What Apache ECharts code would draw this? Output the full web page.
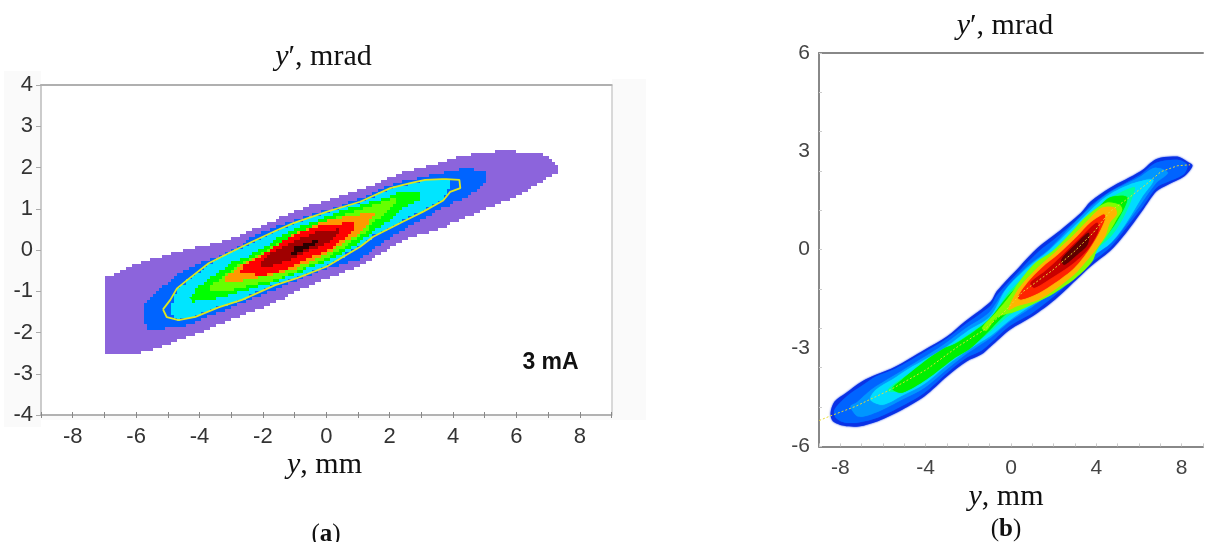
<!DOCTYPE html>
<html>
<head>
<meta charset="utf-8">
<style>html,body{margin:0;padding:0;background:#fff}#c{width:1206px;height:542px}</style>
<script src="https://cdn.jsdelivr.net/npm/echarts@6/dist/echarts.min.js"></script>
</head>
<body>
<div id="c"></div>
<script>
// ---- panel (a): y, mm vs y', mrad at 3 mA ----
const aPurple = [[-7,-2.49],[-7,-0.66],[-5.97,-0.31],[-4.76,-0.05],[-3.5,0.18],[-2.66,0.4],[-1.61,0.73],[-1.04,0.95],[0.22,1.26],[1.48,1.58],[2.33,1.87],[3.06,2.01],[4.23,2.28],[5.49,2.41],[6.66,2.36],[7.16,2.14],[7.35,1.92],[6.96,1.7],[6.02,1.26],[5.17,1.02],[4.32,0.73],[3.49,0.48],[2.65,0.29],[2.11,0.07],[1.07,-0.41],[-0.09,-0.73],[-1.61,-1.28],[-3.09,-1.74],[-3.97,-2.01],[-5.18,-2.35],[-6.03,-2.55],[-6.25,-2.49]];
const aBlue = [[-5.79,-1.7],[-5.71,-1.28],[-5.34,-0.97],[-4.76,-0.61],[-4.04,-0.32],[-3.5,-0.16],[-2.66,0.16],[-2.08,0.44],[-1.04,0.73],[0.22,1.02],[1.07,1.26],[2.11,1.62],[3.38,1.84],[4.45,1.99],[4.92,1.89],[5.08,1.75],[4.92,1.53],[4.45,1.28],[3.69,1.02],[2.97,0.68],[2.11,0.32],[1.07,-0.24],[-0.09,-0.48],[-1.61,-0.97],[-2.24,-1.16],[-3.09,-1.45],[-3.72,-1.62],[-4.45,-1.86],[-5.55,-1.94]];
const aCyan = [[-4.89,-1.55],[-4.89,-1.33],[-4.71,-0.93],[-4.39,-0.73],[-3.71,-0.32],[-3.08,-0.08],[-2.34,0.2],[-1.61,0.46],[-1.04,0.65],[0.03,0.93],[1.07,1.17],[2.02,1.5],[2.65,1.62],[3.12,1.7],[3.65,1.72],[3.9,1.66],[3.91,1.45],[3.69,1.2],[3.06,0.93],[2.43,0.69],[1.48,0.32],[1.07,0.08],[0.02,-0.4],[-0.92,-0.68],[-1.61,-0.85],[-2.66,-1.21],[-3.4,-1.39],[-4.13,-1.62],[-4.66,-1.7]];
const aGreen = [[-4.29,-1.17],[-4.13,-0.93],[-3.66,-0.65],[-3.13,-0.36],[-2.56,-0.16],[-1.82,0.16],[-1.04,0.53],[0.54,0.97],[1.8,1.26],[2.26,1.4],[2.71,1.42],[3.05,1.33],[2.9,1.17],[2.43,0.97],[1.7,0.56],[0.85,0.07],[0.03,-0.29],[-0.95,-0.58],[-1.61,-0.78],[-2.78,-1.05],[-3.61,-1.21],[-4.13,-1.25]];
const aLime = [[-3.72,-1.02],[-3.61,-0.81],[-3.25,-0.65],[-2.78,-0.36],[-1.83,0.05],[-1.04,0.39],[0.54,0.85],[1.39,1.07],[2.08,1.26],[2.24,1.26],[2.11,1.04],[1.39,0.53],[0.6,0.05],[-0.19,-0.29],[-0.95,-0.53],[-1.61,-0.73],[-2.34,-0.85],[-3.09,-1.01]];
const aOrange = [[-3.24,-0.81],[-3.19,-0.61],[-2.77,-0.4],[-2.15,-0.12],[-1.61,0.08],[-1.04,0.4],[0.03,0.73],[0.85,0.85],[1.55,0.9],[1.29,0.56],[0.85,0.29],[0.35,0.05],[-0.28,-0.22],[-1.04,-0.48],[-1.77,-0.63],[-2.24,-0.68],[-2.88,-0.81]];
const aRed = [[-2.73,-0.56],[-2.61,-0.36],[-2.14,-0.16],[-1.35,0.24],[-0.41,0.56],[0.55,0.66],[0.88,0.69],[0.85,0.44],[0.44,0.16],[-0.29,-0.12],[-1.14,-0.44],[-1.87,-0.61]];
const aDarkRed = [[-2.17,-0.4],[-1.87,-0.12],[-1.14,0.2],[-0.4,0.44],[0.39,0.51],[0.42,0.36],[0.02,0.16],[-0.61,-0.08],[-1.24,-0.28],[-1.87,-0.42]];
const aCore = [[-1.16,-0.1],[-0.98,0.08],[-0.61,0.18],[-0.14,0.28],[-0.35,0.12],[-0.73,-0.04],[-1.03,-0.15]];
const aYellowLine = [[-5.15,-1.44],[-4.92,-1.21],[-4.71,-0.93],[-4.39,-0.73],[-3.71,-0.32],[-3.08,-0.08],[-2.34,0.2],[-1.61,0.46],[-1.04,0.65],[0.03,0.93],[1.07,1.17],[2.02,1.5],[2.65,1.62],[3.12,1.7],[3.65,1.72],[3.71,1.76],[3.79,1.72],[4.2,1.7],[4.23,1.5],[3.91,1.41],[3.69,1.2],[3.06,0.93],[2.43,0.69],[1.48,0.32],[1.07,0.08],[0.02,-0.4],[-0.92,-0.68],[-1.61,-0.85],[-2.66,-1.21],[-3.4,-1.39],[-4.13,-1.62],[-4.66,-1.7],[-5.03,-1.63],[-5.15,-1.44]];

// ---- panel (b) ----
const bEdge = [[-8.46,-4.98],[-8.27,-4.63],[-7.74,-4.37],[-6.99,-4.02],[-6.31,-3.81],[-5.41,-3.56],[-4.05,-3.05],[-2.99,-2.64],[-2.16,-2.19],[-0.95,-1.58],[-0.67,-1.27],[0.41,-0.51],[1.24,0.05],[2.19,0.53],[3.27,1.12],[3.73,1.47],[4.63,1.88],[6.07,2.39],[6.82,2.77],[7.8,2.84],[8.26,2.69],[8.51,2.56],[8.11,2.23],[7.35,1.98],[6.82,1.78],[6.14,1.17],[5.39,0.51],[4.63,-0.05],[3.73,-0.51],[2.07,-1.52],[1.01,-2.03],[-0.05,-2.44],[-0.95,-2.95],[-1.4,-3.2],[-2.08,-3.41],[-2.99,-3.86],[-4.05,-4.47],[-5.1,-4.88],[-6.24,-5.23],[-7.14,-5.39],[-7.82,-5.37],[-8.35,-5.23]];
const bBlue = [[-8.27,-4.88],[-7.69,-4.47],[-6.92,-4.12],[-6.33,-3.87],[-5.42,-3.63],[-4.06,-3.13],[-2.99,-2.71],[-2.16,-2.29],[-0.95,-1.71],[-0.67,-1.4],[0.41,-0.64],[1.24,-0.09],[2.19,0.4],[3.27,1.01],[3.73,1.34],[4.63,1.77],[6.07,2.29],[6.81,2.65],[7.8,2.74],[8.26,2.59],[8.12,2.32],[7.35,2.07],[6.81,1.89],[6.13,1.28],[5.36,0.64],[4.63,0.06],[3.73,-0.4],[2.05,-1.4],[1.01,-1.92],[-0.05,-2.32],[-0.95,-2.84],[-1.4,-3.08],[-2.08,-3.29],[-2.99,-3.75],[-4.06,-4.36],[-5.1,-4.76],[-6.24,-5.12],[-7.14,-5.27],[-7.82,-5.27],[-8.22,-5.12]];
const bSky = [[-7.52,-4.78],[-7.23,-4.66],[-6.55,-4.27],[-5.56,-3.87],[-4.65,-3.51],[-3.16,-2.9],[-2.08,-2.38],[-1.03,-1.92],[-0.27,-1.22],[0.69,-0.55],[1.77,0],[3.12,0.91],[4.48,1.68],[5.99,2.2],[6.75,2.5],[7.35,2.35],[6.81,2.04],[6.13,1.43],[5.22,0.61],[4.63,0.18],[3.58,-0.27],[1.92,-1.28],[0.86,-1.8],[-0.08,-2.2],[-0.94,-2.68],[-2.07,-3.17],[-2.98,-3.63],[-4.06,-4.21],[-5.1,-4.57],[-6.24,-4.94],[-7.14,-5.09]];
const bCyan = [[-6.6,-4.57],[-6.33,-4.27],[-5.56,-3.96],[-4.79,-3.63],[-3.16,-3.02],[-2.07,-2.5],[-0.98,-2.04],[-0.21,-1.19],[0.78,-0.55],[1.83,0],[3.18,0.85],[4.41,1.59],[5.54,1.98],[6.67,2.13],[6.13,1.59],[5.31,0.73],[4.63,0.18],[3.5,-0.34],[1.83,-1.31],[0.78,-1.77],[-0.08,-2.16],[-0.94,-2.62],[-2.07,-3.08],[-2.98,-3.51],[-4.06,-4.09],[-5.1,-4.45],[-6.01,-4.73]];
const bSpring = [[-5.78,-4.3],[-5.33,-4.02],[-4.65,-3.75],[-3.07,-3.05],[-1.93,-2.56],[-0.89,-2.07],[-0.12,-1.31],[0.87,-0.67],[1.92,-0.12],[3.27,0.73],[4.32,1.43],[5.41,1.83],[5.81,1.89],[5.31,1.04],[4.63,0.37],[3.41,-0.24],[1.73,-1.22],[0.69,-1.68],[-0.17,-2.04],[-1.03,-2.53],[-2.16,-3.02],[-3.07,-3.41],[-4.06,-3.96],[-5.1,-4.3]];
const bGreen = [[-5.56,-4.24],[-5.1,-3.96],[-3.93,-3.35],[-3.16,-3.02],[-2.61,-2.87],[-1.93,-2.59],[-1.03,-2.13],[-0.12,-1.4],[0.92,-0.73],[1.92,-0.21],[3.27,0.64],[3.96,1.16],[4.63,1.59],[5.45,1.59],[4.95,0.85],[4.27,0.3],[3.27,-0.18],[1.6,-1.16],[0.56,-1.62],[-0.26,-1.98],[-1.25,-2.62],[-1.93,-3.02],[-2.61,-3.29],[-3.97,-3.96],[-5.1,-4.36]];
const bLime = [[-1.35,-2.38],[-0.71,-1.92],[-0.08,-1.43],[0.47,-0.91],[1.15,-0.4],[1.92,-0.06],[2.82,0.52],[3.59,1.04],[4.48,1.43],[5.08,1.37],[5.21,1.22],[5,0.98],[4.63,0.56],[4.03,0],[3.8,-0.36],[3.05,-0.85],[2.05,-1.31],[1.15,-1.62],[0.24,-1.88],[-0.67,-2.07],[-1.16,-2.47]];
const bAmber = [[-0.12,-1.83],[0.24,-1.31],[0.63,-0.97],[1.31,-0.51],[2.05,-0.09],[2.96,0.46],[3.73,0.98],[3.86,1.07],[4.26,1.28],[4.86,1.28],[4.95,1.07],[4.63,0.82],[4.41,0.41],[3.86,-0.09],[3.59,-0.3],[2.96,-0.76],[2.05,-1.22],[1.31,-1.52],[0.24,-1.73]];
const bRed = [[0.33,-1.46],[0.78,-1.01],[1.46,-0.55],[2.22,-0.15],[3.12,0.41],[3.73,0.82],[4.32,1.07],[4.41,1.04],[4.36,0.86],[4.03,0.41],[3.64,0],[2.96,-0.55],[2.05,-1.01],[1.31,-1.31],[0.47,-1.52]];
const bDeepRed = [[0.92,-1.01],[1.6,-0.66],[2.37,-0.2],[3.27,0.37],[4.03,0.82],[4.09,0.56],[3.58,0],[2.82,-0.46],[1.92,-0.85],[1.09,-1.16]];
const bCore = [[2.37,-0.3],[2.96,0.12],[3.64,0.52],[3.58,0.15],[3.05,-0.18],[2.5,-0.46]];
const bRidge = [[-8.99,-5.21],[-8.5,-5.08],[-7.29,-4.78],[-5.65,-4.27],[-3.97,-3.66],[-2.48,-2.95],[-1.25,-2.44],[-0.35,-1.92],[0.56,-1.28],[1.92,-0.64],[2.96,-0.06],[3.86,0.52],[4.63,1.16],[5.54,1.59],[6.31,1.98],[7.03,2.38],[7.8,2.56],[8.39,2.59]];

const aLevels = [aPurple,aBlue,aCyan,aGreen,aLime,aOrange,aRed,aDarkRed,aCore];
const aColors = ['#8c64dc','#0064ff','#00e5ff','#00ff00','#66ff00','#ff9900','#ff0000','#a00000','#2a0000'];
const bLevels = [bEdge,bBlue,bSky,bCyan,bSpring,bGreen,bLime,bAmber,bRed,bDeepRed,bCore];
const bColors = ['#0a32e6','#0064ff','#0096ff','#00dcff','#00ff9a','#00f000','#80ff00','#ffb400','#ff2400','#c80000','#600000'];

const aXRange = [-9, 9], aYRange = [-4, 4];
const bXRange = [-9, 9], bYRange = [-6, 6];

// raster look of panel (a): snap the drawn outline to the detector's pixel blocks
function blocks(points, step) {
  const out = [];
  const n = points.length;
  for (let i = 0; i < n; i++) {
    const p = points[i], q = points[(i + 1) % n];
    const m = Math.max(1, Math.ceil(Math.max(Math.abs(q[0]-p[0]), Math.abs(q[1]-p[1])) / step));
    for (let k = 0; k < m; k++) {
      const x = Math.round((p[0] + (q[0]-p[0]) * k / m) / step) * step;
      const y = Math.round((p[1] + (q[1]-p[1]) * k / m) / step) * step;
      if (out.length) {
        const l = out[out.length-1];
        if (l[0] !== x && l[1] !== y) out.push([x, l[1]]);
      }
      out.push([x, y]);
    }
  }
  return out;
}

function contour(pts, color, xi, yi, step, smooth, blur) {
  return {
    type: 'custom', xAxisIndex: xi, yAxisIndex: yi, data: pts, silent: true, clip: false,
    encode: {x: 0, y: 1},
    renderItem(params, api) {
      if (params.dataIndex !== 0) return {type: 'group', children: []};
      let points = pts.map(p => api.coord(p));
      if (step) points = blocks(points, step);
      return {type: 'polygon', shape: {points, smooth: smooth || 0},
              style: {fill: color, shadowBlur: blur || 0, shadowColor: color}};
    }
  };
}

const serif = 'Liberation Serif';
function label(text, x, y, size) {
  return {
    text, left: x, top: y, textAlign: 'center', padding: 0,
    textStyle: {fontWeight: 'normal', rich: {
      i: {fontFamily: serif, fontSize: size, fontStyle: 'italic', fontWeight: 'normal', color: '#111'},
      n: {fontFamily: serif, fontSize: size, fontWeight: 'normal', color: '#111'},
      b: {fontFamily: serif, fontSize: size, fontWeight: 'bold', color: '#111'}
    }}
  };
}

const aLabel = {color: '#333', fontFamily: 'Liberation Sans', fontSize: 22};
const bLabel = {color: '#444', fontFamily: 'Liberation Sans', fontSize: 21};
const hidden = {show: false};
const noLine = {show: false, onZero: false};

const option = {
  animation: false,
  backgroundColor: '#fff',
  title: [
    label("{i|y}{n|′, mrad}", 323.5, 42, 30),
    label("{i|y}{n|, mm}", 324.5, 450, 30),
    label("{n|(}{b|a}{n|)}", 326, 522, 25),
    label("{i|y}{n|′, mrad}", 1005, 11, 30),
    label("{i|y}{n|, mm}", 1006, 482, 30),
    label("{n|(}{b|b}{n|)}", 1006, 517, 25),
    {text: '3 mA', left: 550.5, top: 351, textAlign: 'center', padding: 0,
     textStyle: {fontFamily: 'Liberation Sans', fontWeight: 'bold', fontSize: 23, color: '#111'}}
  ],
  graphic: [
    {type: 'rect', z: -1, shape: {x: 4, y: 71, width: 37, height: 356}, style: {fill: '#fafafa'}},
    {type: 'rect', z: -1, shape: {x: 612, y: 79, width: 34, height: 341}, style: {fill: '#fafafa'}},
    {type: 'rect', z: -1, shape: {x: 41, y: 416, width: 571, height: 4}, style: {fill: '#fafafa'}}
  ],
  grid: [
    {left: 41, top: 85, width: 570.5, height: 330},
    {left: 819, top: 53, width: 397.4, height: 393.4}
  ],
  xAxis: [
    {gridIndex: 0, type: 'value', min: aXRange[0], max: aXRange[1], interval: 1, position: 'bottom',
     splitLine: hidden,
     axisLine: {onZero: false, lineStyle: {color: '#999', width: 1.5}},
     axisTick: {length: 3, lineStyle: {color: '#888'}},
     axisLabel: {...aLabel, margin: 11, formatter: v => (v % 2 === 0 ? String(v) : '')}},
    {gridIndex: 0, type: 'value', min: aXRange[0], max: aXRange[1], interval: 1, position: 'bottom',
     splitLine: hidden, axisLine: noLine, axisLabel: hidden,
     axisTick: {inside: true, length: 3, lineStyle: {color: '#888'}}},
    {gridIndex: 0, type: 'value', min: aXRange[0], max: aXRange[1], position: 'top',
     splitLine: hidden, axisTick: hidden, axisLabel: hidden,
     axisLine: {onZero: false, lineStyle: {color: '#b0b0b0', width: 2}}},
    {gridIndex: 1, type: 'value', min: bXRange[0], max: bXRange[1], interval: 1, position: 'bottom',
     splitLine: hidden,
     axisLine: {onZero: false, lineStyle: {color: '#888', width: 2}},
     axisTick: {inside: true, length: 3, lineStyle: {color: '#ccc'}},
     axisLabel: {...bLabel, margin: 11, formatter: v => (v % 4 === 0 ? String(v) : '')}},
    {gridIndex: 1, type: 'value', min: bXRange[0], max: bXRange[1], position: 'top',
     splitLine: hidden, axisTick: hidden, axisLabel: hidden,
     axisLine: {onZero: false, lineStyle: {color: '#888', width: 2}}}
  ],
  yAxis: [
    {gridIndex: 0, type: 'value', min: aYRange[0], max: aYRange[1], interval: 1, position: 'left',
     splitLine: hidden,
     axisLine: {onZero: false, lineStyle: {color: '#bbb', width: 1.5}},
     axisTick: {length: 5, lineStyle: {color: '#aaa'}},
     axisLabel: {...aLabel, margin: 8}},
    {gridIndex: 0, type: 'value', min: aYRange[0], max: aYRange[1], position: 'right',
     splitLine: hidden, axisTick: hidden, axisLabel: hidden,
     axisLine: {onZero: false, lineStyle: {color: '#ccc', width: 1.5}}},
    {gridIndex: 1, type: 'value', min: bYRange[0], max: bYRange[1], interval: 3, position: 'left',
     splitLine: hidden, axisTick: hidden,
     axisLine: {onZero: false, lineStyle: {color: '#888', width: 2}},
     axisLabel: {...bLabel, margin: 9}},
    {gridIndex: 1, type: 'value', min: bYRange[0], max: bYRange[1], interval: 1.2, position: 'left',
     splitLine: hidden, axisLabel: hidden, axisLine: noLine,
     axisTick: {inside: true, length: 3, lineStyle: {color: '#ccc'}}}
  ],
  series: [
    ...aLevels.map((pts, i) => contour(pts, aColors[i], 0, 0, 3)),
    {type: 'line', xAxisIndex: 0, yAxisIndex: 0, data: aYellowLine, symbol: 'none', silent: true,
     lineStyle: {color: '#dce61e', width: 1.8}},
    ...bLevels.map((pts, i) => contour(pts, bColors[i], 3, 2, 0, 0.3, i === 0 ? 2 : 1)),
    {type: 'line', xAxisIndex: 3, yAxisIndex: 2, data: bRidge, symbol: 'none', silent: true,
     lineStyle: {color: '#e8dc30', width: 1, type: [2, 2]}}
  ]
};
echarts.init(document.getElementById('c')).setOption(option);
</script>
</body>
</html>
